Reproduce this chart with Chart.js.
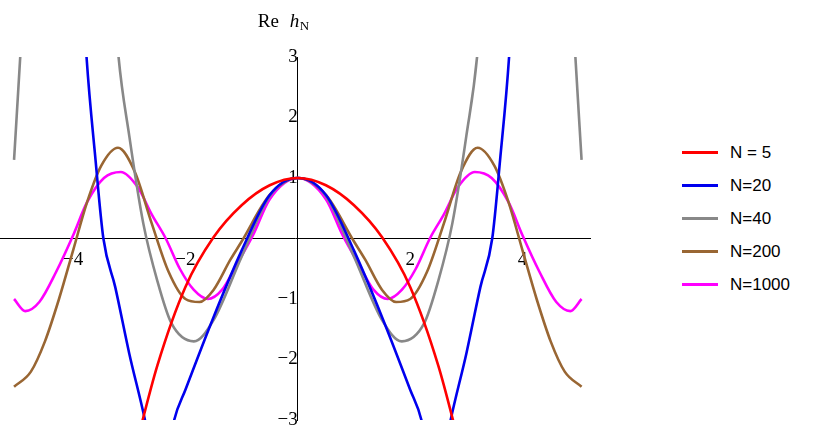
<!DOCTYPE html>
<html><head><meta charset="utf-8">
<script src="https://cdn.jsdelivr.net/npm/chart.js@4/dist/chart.umd.min.js"></script>
<style>
body{margin:0;background:#fff;width:830px;height:442px;overflow:hidden;position:relative}
#wrap{position:absolute;left:0;top:0;width:600px;height:442px}
#leg{position:absolute;left:682px;top:136px;font-family:"Liberation Sans",Arial,sans-serif;font-size:17px}
#leg div{height:33px;display:flex;align-items:center}
#leg span{display:inline-block;width:36px;height:3px;margin-right:12px}
</style></head><body>
<div id="wrap"><canvas id="c"></canvas></div>
<div id="leg"></div>
<script>
const seriesNames=["N = 5","N=20","N=40","N=200","N=1000"];
const colors=["#ff0000","#0000ee","#888888","#996633","#ff00ff"];
const xTicks=[-4,-2,2,4];
const yTicks=[-3,-2,-1,1,2,3];
const x5=[-2.9,-2.5,-2,-1.5,-1,-0.5,0,0.5,1,1.5,2,2.5,2.9];
const y5=[-3.5,-2.1,-0.8,0.02,0.55,0.88,1,0.88,0.55,0.02,-0.8,-2.1,-3.5];
const x20=[-3.85,-3.76,-3.6,-3.46,-3.25,-3,-2.72,-2.45,-2.2,-2,-1.5,-1,-0.5,0,0.5,1,1.5,2,2.2,2.45,2.72,3,3.25,3.46,3.6,3.76,3.85];
const y20=[4.5,3,1.3,0,-0.8,-1.9,-3,-4.3,-3,-2.5,-1.3,-0.2,0.72,1,0.72,-0.2,-1.3,-2.5,-3,-4.3,-3,-1.9,-0.8,0,1.3,3,4.5];
const x40=[-5.05,-4.94,-4.85,-3.3,-3.2,-3,-2.75,-2.5,-2.25,-1.85,-1.5,-1,-0.5,0,0.5,1,1.5,1.85,2.25,2.5,2.75,3,3.2,3.3,4.85,4.94,5.05];
const y40=[1.3,3,4.5,4.5,3.1,1.7,0.25,-0.7,-1.4,-1.7,-1.35,-0.3,0.7,1,0.7,-0.3,-1.35,-1.7,-1.4,-0.7,0.25,1.7,3.1,4.5,4.5,3,1.3];
const x200=[-5.05,-4.75,-4.5,-4.25,-4,-3.75,-3.5,-3.2,-2.9,-2.6,-2.3,-2,-1.75,-1.5,-1.2,-1,-0.5,0,0.5,1,1.2,1.5,1.75,2,2.3,2.6,2.9,3.2,3.5,3.75,4,4.25,4.5,4.75,5.05];
const y200=[-2.45,-2.2,-1.7,-1.0,-0.2,0.6,1.2,1.5,1.1,0.25,-0.55,-1.0,-1.05,-0.85,-0.35,-0.05,0.72,1,0.72,-0.05,-0.35,-0.85,-1.05,-1.0,-0.55,0.25,1.1,1.5,1.2,0.6,-0.2,-1.0,-1.7,-2.2,-2.45];
const x1000=[-5.05,-4.85,-4.6,-4.3,-4,-3.75,-3.45,-3.15,-2.85,-2.6,-2.35,-2.1,-1.85,-1.6,-1.35,-1.1,-0.8,-0.5,0,0.5,0.8,1.1,1.35,1.6,1.85,2.1,2.35,2.6,2.85,3.15,3.45,3.75,4,4.3,4.6,4.85,5.05];
const y1000=[-1.0,-1.2,-1.05,-0.55,0.05,0.6,1.0,1.1,0.85,0.4,0,-0.5,-0.85,-1.0,-0.85,-0.45,0.05,0.65,1,0.65,0.05,-0.45,-0.85,-1.0,-0.85,-0.5,0,0.4,0.85,1.1,1.0,0.6,0.05,-0.55,-1.05,-1.2,-1.0];
const xs=[x5,x20,x40,x200,x1000], ys=[y5,y20,y40,y200,y1000];
const datasets=xs.map((xa,i)=>({label:seriesNames[i],data:xa.map((x,j)=>({x,y:ys[i][j]})),borderColor:colors[i],borderWidth:2.6,pointRadius:0,showLine:true,cubicInterpolationMode:'monotone',fill:false}));
const leg=document.getElementById('leg');
seriesNames.forEach((n,i)=>{leg.innerHTML+=`<div><span style="background:${colors[i]}"></span>${n}</div>`;});
const serif='"Liberation Serif","Times New Roman",serif';
const labels={id:'labels',afterDraw(ch){const c=ch.ctx;c.save();c.fillStyle='#000';c.font='italic 19px '+serif;
 const xs=ch.scales.x, yS=ch.scales.y;const ox=xs.getPixelForValue(0), oy=yS.getPixelForValue(0);
 c.textBaseline='middle';c.fillText('t ω',ch.chartArea.right+14,oy+3);c.font='13px '+serif;c.fillText('0',ch.chartArea.right+44,oy+9);
 c.font='19px '+serif;c.textAlign='left';c.fillText('Re ',ox-40,yS.top-35);c.font='italic 19px '+serif;c.fillText('h',ox-8,yS.top-35);c.font='13px '+serif;c.fillText('N',ox+2,yS.top-30);c.restore();}};
new Chart(document.getElementById('c'),{type:'scatter',data:{datasets},
 options:{responsive:true,maintainAspectRatio:false,animation:false,
  layout:{padding:{top:57,bottom:22,left:0,right:10}},
  plugins:{legend:{display:false},tooltip:{enabled:false}},
  scales:{
   x:{type:'linear',min:-5.3,max:5.2,position:{y:0},afterBuildTicks:a=>{a.ticks=xTicks.map(v=>({value:v}));},
      grid:{display:false,drawTicks:true},border:{color:'#000',width:1},
      ticks:{color:'#000',font:{family:serif,size:19},callback:v=>String(v).replace('-','−'),maxRotation:0,padding:2}},
   y:{type:'linear',min:-3,max:3,position:{x:0},afterBuildTicks:a=>{a.ticks=yTicks.map(v=>({value:v}));},
      grid:{display:false},border:{color:'#000',width:1},
      ticks:{color:'#000',font:{family:serif,size:19},callback:v=>String(v).replace('-','−'),padding:4}}
  }},plugins:[labels]});
</script></body></html>
